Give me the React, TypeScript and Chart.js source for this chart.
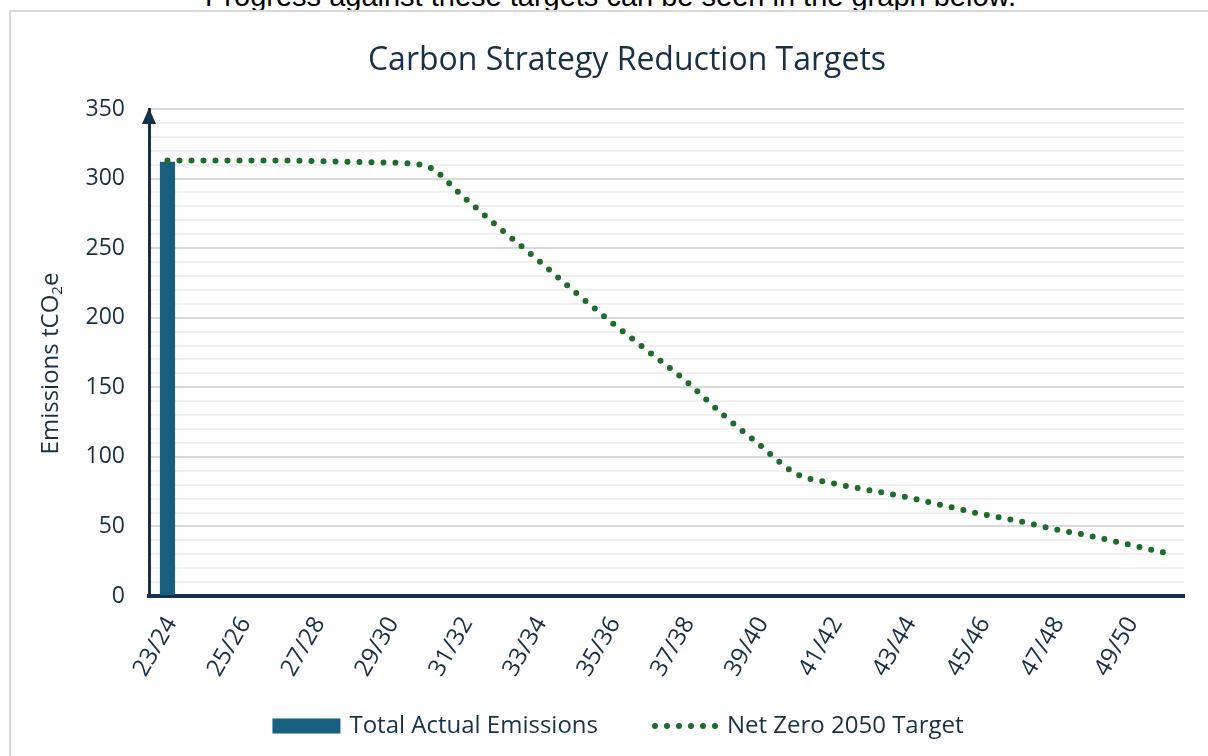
import React, { useEffect, useRef } from 'react';
import { Chart, registerables } from 'chart.js';

Chart.register(...registerables);

const categories = [
  '23/24', '24/25', '25/26', '26/27', '27/28', '28/29', '29/30', '30/31',
  '31/32', '32/33', '33/34', '34/35', '35/36', '36/37', '37/38', '38/39',
  '39/40', '40/41', '41/42', '42/43', '43/44', '44/45', '45/46', '46/47',
  '47/48', '48/49', '49/50', '50/51',
];

const actualEmissions = [
  312, null, null, null, null, null, null, null,
  null, null, null, null, null, null, null, null,
  null, null, null, null, null, null, null, null,
  null, null, null, null,
];

const netZeroTarget = [
  313, 313, 313, 313, 312.5, 312, 311.5, 309,
  287, 264, 242, 219, 197, 176, 155, 131,
  109, 88, 81, 76, 71, 65, 59, 54,
  48, 43, 37, 31,
];

const yMajorTicks = [0, 50, 100, 150, 200, 250, 300, 350];

const seriesNames = ['Total Actual Emissions', 'Net Zero 2050 Target'];
const chartTitle = 'Carbon Strategy Reduction Targets';
const yTitleMain = 'Emissions tCO';
const yTitleSub = '2';
const yTitleEnd = 'e';
const introText = 'Progress against these targets can be seen in the graph below.';

const NAVY = '#17304b';
const BAR = '#185e7f';
const GREEN = '#1e6b2b';
const FONT = "'Open Sans', 'Noto Sans', sans-serif";

const decor = {
  id: 'decor',
  afterDraw(chart: any) {
    const { ctx, chartArea, scales } = chart;
    const y = scales.y;
    const x = chartArea.left;
    const top = y.getPixelForValue(350);
    ctx.save();
    // arrow head on y axis
    ctx.fillStyle = NAVY;
    ctx.beginPath();
    ctx.moveTo(x, top - 1);
    ctx.lineTo(x - 7, top + 15);
    ctx.lineTo(x + 7, top + 15);
    ctx.closePath();
    ctx.fill();
    ctx.restore();

    // chart title
    ctx.save();
    ctx.font = `32px ${FONT}`;
    ctx.fillStyle = NAVY;
    ctx.textAlign = 'center';
    ctx.textBaseline = 'middle';
    ctx.fillText(chartTitle, 616, 49);
    ctx.restore();

    // y-axis title with subscript
    ctx.save();
    const cx = 40;
    const cy = (chartArea.top + chartArea.bottom) / 2 + 11;
    ctx.translate(cx, cy);
    ctx.rotate(-Math.PI / 2);
    ctx.fillStyle = NAVY;
    ctx.textBaseline = 'middle';
    ctx.textAlign = 'left';
    const mainFont = `24px ${FONT}`;
    const subFont = `15px ${FONT}`;
    ctx.font = mainFont;
    const w1 = ctx.measureText(yTitleMain).width;
    const w3 = ctx.measureText(yTitleEnd).width;
    ctx.font = subFont;
    const w2 = ctx.measureText(yTitleSub).width;
    let sx = -(w1 + w2 + w3) / 2;
    ctx.font = mainFont;
    ctx.fillText(yTitleMain, sx, 0);
    sx += w1;
    ctx.font = subFont;
    ctx.fillText(yTitleSub, sx, 7);
    sx += w2;
    ctx.font = mainFont;
    ctx.fillText(yTitleEnd, sx, 0);
    ctx.restore();

    // legend
    ctx.save();
    ctx.font = `24px ${FONT}`;
    ctx.textBaseline = 'middle';
    ctx.textAlign = 'left';
    const t1 = ctx.measureText(seriesNames[0]).width;
    const t2 = ctx.measureText(seriesNames[1]).width;
    const swatchW = 68;
    const dotsW = 66;
    const gapText = 9;
    const gapItems = 54;
    const total = swatchW + gapText + t1 + gapItems + dotsW + gapText + t2;
    const ly = 714;
    let lx = 607 - total / 2;
    ctx.fillStyle = BAR;
    ctx.fillRect(lx, ly - 7.5, swatchW, 15);
    lx += swatchW + gapText;
    ctx.fillStyle = NAVY;
    ctx.fillText(seriesNames[0], lx, ly);
    lx += t1 + gapItems;
    ctx.strokeStyle = GREEN;
    ctx.lineWidth = 6;
    ctx.lineCap = 'round';
    ctx.setLineDash([0, 12]);
    ctx.beginPath();
    ctx.moveTo(lx + 3, ly);
    ctx.lineTo(lx + 3 + 60.5, ly);
    ctx.stroke();
    ctx.setLineDash([]);
    lx += dotsW + gapText;
    ctx.fillStyle = NAVY;
    ctx.fillText(seriesNames[1], lx, ly);
    ctx.restore();
  },
};

export default function App() {
  const canvasRef = useRef<HTMLCanvasElement | null>(null);

  useEffect(() => {
    if (!canvasRef.current) return;
    const chart = new Chart(canvasRef.current, {
      type: 'bar',
      data: {
        labels: categories,
        datasets: [
          {
            type: 'bar',
            label: seriesNames[0],
            data: actualEmissions,
            backgroundColor: BAR,
            borderWidth: 0,
            barPercentage: 0.41,
            categoryPercentage: 1,
            order: 1,
          } as any,
          {
            type: 'line',
            label: seriesNames[1],
            data: netZeroTarget,
            borderColor: GREEN,
            backgroundColor: GREEN,
            borderWidth: 6,
            borderDash: [0, 12],
            borderCapStyle: 'round',
            pointRadius: 0,
            fill: false,
            cubicInterpolationMode: 'monotone',
            order: 0,
          } as any,
        ],
      },
      options: {
        responsive: false,
        animation: false,
        layout: { padding: { left: 0, right: 61, top: 97, bottom: 60 } },
        plugins: {
          title: { display: false },
          legend: { display: false },
          tooltip: { enabled: false },
        },
        scales: {
          x: {
            offset: true,
            grid: { display: false, drawTicks: false },
            border: { display: true, color: NAVY, width: 4 },
            ticks: {
              autoSkip: false,
              maxRotation: 60,
              minRotation: 60,
              padding: 16,
              labelOffset: 4,
              color: NAVY,
              font: { family: FONT, size: 24 },
              callback: (_v: any, i: number) => (i % 2 === 0 ? categories[i] : ''),
            },
            afterFit: (scale: any) => {
              scale.height = 100;
            },
          },
          y: {
            min: 0,
            max: 350,
            grid: {
              drawTicks: false,
              lineWidth: 2,
              color: (ctx: any) =>
                yMajorTicks.includes(ctx.tick?.value) ? '#d9d9d9' : '#f0f0f0',
            },
            border: { display: true, color: NAVY, width: 3 },
            ticks: {
              stepSize: 10,
              autoSkip: false,
              padding: 24,
              color: NAVY,
              font: { family: FONT, size: 23 },
              callback: (v: any) => (yMajorTicks.includes(Number(v)) ? String(v) : ''),
            },
            afterFit: (scale: any) => {
              scale.width = 138;
            },
          },
        },
      },
      plugins: [decor],
    });
    return () => chart.destroy();
  }, []);

  return (
    <div
      style={{
        position: 'absolute',
        left: 0,
        top: 0,
        width: 1208,
        height: 756,
        overflow: 'hidden',
        background: '#ffffff',
      }}
    >
      <div
        style={{
          position: 'absolute',
          left: 0,
          top: -21,
          width: 1221,
          textAlign: 'center',
          fontFamily: "'Liberation Sans', Arial, sans-serif",
          fontSize: 29,
          lineHeight: '34px',
          color: '#000',
          whiteSpace: 'nowrap',
        }}
      >
        {introText}
      </div>
      <div
        style={{
          position: 'absolute',
          left: 9,
          top: 10,
          width: 1238,
          height: 780,
          border: '2px solid #d9d9d9',
          boxSizing: 'border-box',
        }}
      />
      <div style={{ position: 'absolute', left: 11, top: 12, width: 1234, height: 744 }}>
        <canvas ref={canvasRef} width={1234} height={744} style={{ display: 'block' }} />
      </div>
    </div>
  );
}
